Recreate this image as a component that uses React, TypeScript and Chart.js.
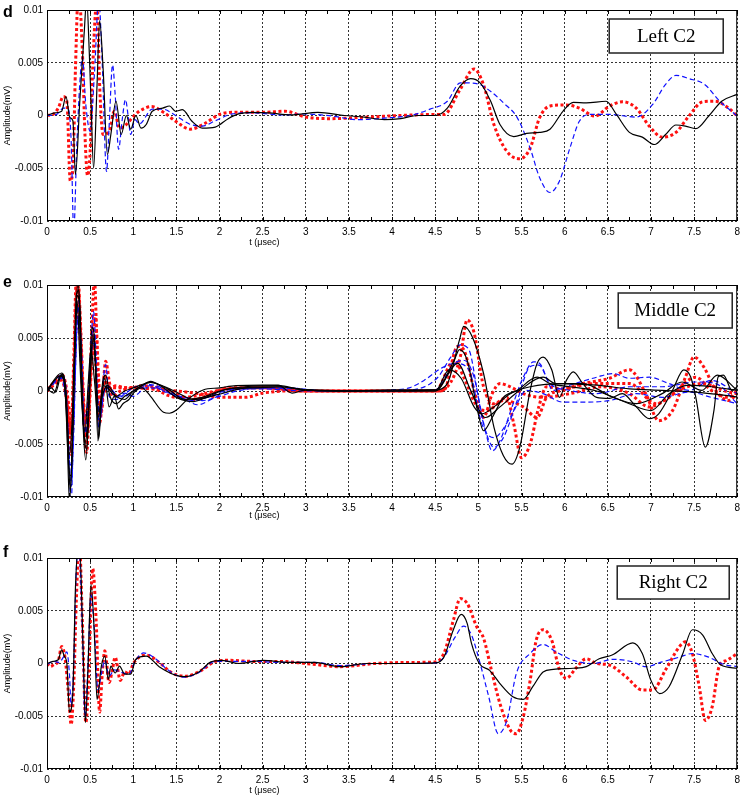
import React, { useEffect, useRef } from "react";
import { Chart, registerables } from "chart.js";

Chart.register(...registerables);

type Pt = [number, number];

// ---- axis ticks ----
const X_TICK_VALUES = [0, 0.5, 1, 1.5, 2, 2.5, 3, 3.5, 4, 4.5, 5, 5.5, 6, 6.5, 7, 7.5, 8];
const X_TICK_LABELS = ["0", "0.5", "1", "1.5", "2", "2.5", "3", "3.5", "4", "4.5", "5", "5.5", "6", "6.5", "7", "7.5", "8"];
const Y_TICK_VALUES = [-0.01, -0.005, 0, 0.005, 0.01];
const Y_TICK_LABELS = ["-0.01", "-0.005", "0", "0.005", "0.01"];
const X_TITLE = "t (\u03bcsec)";
const Y_TITLE = "Amplitude(mV)";

// series values: [t (µsec), amplitude in units of 0.001 mV]
const Y_UNIT = 0.001;

// ---- panel d : Left C2 ----
const dBlack: Pt[] = [[0,0],[0.09,0.25],[0.17,0.4],[0.22,1.8],[0.265,-0.2],[0.3,-0.5],[0.33,-5.6],[0.38,1.35],[0.43,7.7],[0.46,11],[0.49,6],[0.51,1.35],[0.54,-5.0],[0.58,2.9],[0.61,9.0],[0.65,4.5],[0.7,-3.7],[0.74,-1.8],[0.8,1.35],[0.86,-1.8],[0.92,0],[0.97,-1.3],[1.03,0],[1.09,-1.2],[1.15,-0.85],[1.22,0.4],[1.34,0.7],[1.42,0.9],[1.49,0.4],[1.57,0.55],[1.68,-0.55],[1.8,-1.2],[1.95,-1.1],[2.1,-0.3],[2.22,0.15],[2.37,0.3],[2.57,0.25],[2.83,0.05],[3.14,0.3],[3.45,0],[3.68,-0.15],[3.91,-0.4],[4.1,-0.3],[4.29,0],[4.5,0],[4.64,0.7],[4.79,2.8],[4.91,3.5],[5.02,3.1],[5.14,1.4],[5.25,-0.85],[5.41,-2.0],[5.56,-1.7],[5.71,-1.6],[5.83,-1.3],[5.98,0.4],[6.1,1.25],[6.25,1.2],[6.48,1.35],[6.6,0.1],[6.75,-1.6],[6.9,-2.05],[7.04,-2.75],[7.17,-1.8],[7.29,-0.9],[7.4,-1.0],[7.52,-1.25],[7.67,-0.05],[7.82,1.35],[8.0,2.0]];
const dBlue: Pt[] = [[0,0],[0.11,0.1],[0.19,0.7],[0.25,0.55],[0.28,-2.4],[0.31,-11],[0.345,-3],[0.38,3],[0.41,5.5],[0.45,1],[0.5,-1.5],[0.55,4],[0.6,11],[0.64,5],[0.69,-5.3],[0.72,-1],[0.76,4.8],[0.79,2],[0.83,-3.2],[0.87,-0.5],[0.91,1.5],[0.94,0],[0.97,-1.8],[1.02,-0.4],[1.07,-0.8],[1.22,0.6],[1.34,0.6],[1.49,0],[1.65,-0.8],[1.8,-1.0],[1.95,-0.5],[2.15,0.15],[2.37,0.25],[2.75,0.05],[2.99,0.15],[3.3,-0.05],[3.6,-0.4],[3.91,-0.25],[4.21,0],[4.44,0.6],[4.64,1.35],[4.79,3.1],[4.99,3.0],[5.14,2.3],[5.29,1.2],[5.45,-0.2],[5.6,-3.1],[5.71,-5.9],[5.83,-7.3],[5.94,-6.2],[6.06,-3.1],[6.17,-0.55],[6.29,0.1],[6.52,0.1],[6.83,-0.15],[7.02,1.05],[7.17,2.95],[7.29,3.8],[7.44,3.5],[7.63,2.9],[7.78,1.5],[8.0,-0.05]];
const dRed: Pt[] = [[0,0],[0.07,0.1],[0.13,0.7],[0.19,1.8],[0.23,1.35],[0.27,-6.2],[0.3,-5.0],[0.33,4.5],[0.365,12],[0.41,6.1],[0.44,-1.8],[0.47,-5.7],[0.5,-3.4],[0.53,4.5],[0.58,11],[0.61,2.9],[0.65,-1.8],[0.72,-1.5],[0.78,0.4],[0.84,-1.2],[0.92,-0.85],[0.99,-0.2],[1.07,0.4],[1.21,0.85],[1.35,0.3],[1.5,-0.6],[1.66,-1.3],[1.82,-0.8],[2.0,0.1],[2.15,0.3],[2.5,0.3],[2.76,0.4],[3.0,-0.15],[3.3,-0.3],[3.6,-0.2],[4.1,0],[4.5,0.1],[4.6,0.1],[4.79,2.5],[4.95,4.4],[5.06,2.9],[5.18,-0.85],[5.33,-3.4],[5.48,-4.1],[5.6,-3.1],[5.71,-0.2],[5.83,0.9],[6.02,1.0],[6.17,0.7],[6.35,-0.05],[6.52,0.9],[6.67,1.3],[6.83,0.7],[6.98,-1.0],[7.13,-2.05],[7.29,-1.6],[7.44,-0.05],[7.6,1.3],[7.74,1.35],[7.9,0.7],[8.0,-0.05]];

// ---- panel e : Middle C2 ----
const eBlackA: Pt[] = [[0,0],[0.05,0.3],[0.1,-0.1],[0.17,1.6],[0.21,0.5],[0.24,-4],[0.27,-9.5],[0.3,-3],[0.33,6],[0.36,10.5],[0.39,4],[0.42,-3.5],[0.45,-6.5],[0.49,0],[0.52,6],[0.55,5],[0.59,-4.7],[0.63,-1],[0.67,1.2],[0.72,-1.5],[0.78,-0.5],[0.83,-1.7],[0.88,-1.2],[0.95,-0.8],[1.0,-0.2],[1.1,0.3],[1.2,-0.5],[1.35,-2.0],[1.42,-2.1],[1.5,-1.8],[1.62,-0.85],[1.81,0.1],[2.0,0.3],[2.19,0.5],[2.5,0.55],[2.68,0.55],[2.84,-0.2],[3.0,0.1],[3.5,0],[4.0,0],[4.5,0.1],[4.64,0.7],[4.78,4.8],[4.83,6.1],[4.93,5.1],[5.06,1.65],[5.18,-3.4],[5.29,-6.1],[5.39,-6.9],[5.48,-5.3],[5.6,0.06],[5.68,2.6],[5.75,3.2],[5.85,2.0],[5.94,-0.6],[6.02,1.0],[6.1,1.8],[6.21,0.7],[6.37,-0.6],[6.52,-0.7],[6.67,-0.25],[6.83,-1.5],[6.98,-2.6],[7.09,-2.15],[7.25,0.06],[7.38,2.0],[7.46,1.35],[7.52,-0.6],[7.63,-5.3],[7.73,-1.85],[7.78,1.35],[7.84,1.5],[7.94,0.06],[8.0,0.4]];
const eBlackB: Pt[] = [[0,0.2],[0.08,-0.2],[0.16,1.5],[0.2,0.8],[0.23,-3],[0.26,-10.5],[0.29,-6],[0.32,3],[0.35,9],[0.38,8],[0.41,-1],[0.44,-5],[0.47,-3],[0.51,3],[0.54,5],[0.58,-1],[0.6,-4.5],[0.64,0.5],[0.68,1.5],[0.73,-0.5],[0.8,-1.2],[0.9,-0.5],[1.0,0],[1.1,0.5],[1.2,0.9],[1.35,0.3],[1.5,-0.6],[1.7,-1.0],[1.9,-0.4],[2.1,0.2],[2.4,0.3],[2.7,0.4],[3.0,0.1],[3.5,0],[4.0,0.1],[4.5,0.1],[4.72,2.9],[4.78,3.9],[4.87,2.9],[4.99,-1.85],[5.06,-3.75],[5.16,-2.5],[5.29,-0.6],[5.45,0.06],[5.68,1.3],[5.83,0.7],[6.06,0.4],[6.37,0],[6.75,-1.2],[7.0,-1.85],[7.21,-0.25],[7.44,0.55],[7.7,0.4],[8.0,0.06]];
const eBlackC: Pt[] = [[0,0],[0.15,1.4],[0.2,1.0],[0.25,-7],[0.28,-8],[0.31,0],[0.34,9],[0.37,9.5],[0.4,2],[0.43,-4],[0.46,-5.5],[0.5,1],[0.53,5.3],[0.56,3],[0.6,-2],[0.65,0.5],[0.7,0.3],[0.8,-0.5],[0.9,0],[1.0,0.3],[1.2,0.8],[1.4,0.2],[1.6,-0.8],[1.8,-0.6],[2.0,0],[2.3,0.4],[2.7,0.5],[2.9,0.2],[3.2,0],[3.6,0],[4.0,0],[4.5,0],[4.66,2.0],[4.8,1.2],[4.95,-1.5],[5.04,-2.15],[5.18,-1.5],[5.37,-0.25],[5.6,0.4],[5.98,0.7],[6.37,0.55],[6.75,0.2],[7.13,0.06],[7.52,-0.1],[8.0,-0.55]];
const eBlackD: Pt[] = [[0,0.1],[0.17,1.7],[0.22,0],[0.26,-6],[0.29,-3],[0.32,4],[0.35,8.5],[0.38,3],[0.41,-2],[0.44,-3.8],[0.48,1],[0.51,4],[0.55,1],[0.59,-2.5],[0.64,-0.5],[0.7,0.5],[0.8,-0.5],[0.9,-0.8],[1.0,0],[1.2,0.8],[1.45,0.1],[1.7,-0.8],[2.0,-0.3],[2.3,0.3],[2.7,0.4],[3.0,0.1],[3.5,0],[4.0,0],[4.5,0],[4.76,2.6],[4.91,0.06],[5.08,-2.5],[5.25,-1.5],[5.48,0.06],[5.75,1.3],[5.9,0.7],[6.21,0.7],[6.56,-0.6],[6.83,-1.2],[7.13,-0.25],[7.36,0.85],[7.59,0.06],[7.77,1.5],[8.0,0.06]];
const eBlueA: Pt[] = [[0,0],[0.17,1.5],[0.22,0.3],[0.26,-8],[0.28,-10.5],[0.31,-2],[0.34,7],[0.37,8.5],[0.4,1],[0.43,-4],[0.46,-3],[0.5,3],[0.54,7.5],[0.57,3],[0.6,-3],[0.64,0],[0.68,2.5],[0.72,-0.5],[0.8,-0.8],[0.9,-0.3],[1.0,0.3],[1.2,0.6],[1.4,0],[1.6,-0.8],[1.75,-1.3],[1.9,-0.8],[2.1,0],[2.4,0.3],[2.8,0.3],[3.2,0],[3.6,0],[4.0,0],[4.3,0.2],[4.53,1.3],[4.68,3.2],[4.79,4.35],[4.89,3.9],[5.0,-0.6],[5.1,-4.4],[5.16,-5.65],[5.25,-4.7],[5.39,-1.5],[5.52,1.3],[5.64,2.75],[5.71,2.6],[5.87,0.06],[6.06,0.55],[6.37,1.3],[6.56,1.65],[6.75,1.2],[6.98,1.3],[7.21,0.7],[7.44,0.06],[7.7,1.0],[8.0,-0.25]];
const eBlueB: Pt[] = [[0,0.1],[0.16,1.3],[0.21,0.5],[0.25,-5],[0.28,-9],[0.31,-4],[0.34,5],[0.36,8],[0.39,5],[0.42,-2],[0.45,-4],[0.49,0],[0.53,6],[0.56,4],[0.6,-3.5],[0.65,-0.5],[0.7,0.5],[0.8,-0.3],[0.9,-0.5],[1.0,0],[1.2,0.5],[1.4,-0.2],[1.6,-0.6],[1.8,-0.9],[2.0,-0.5],[2.2,0],[2.5,0.3],[2.9,0.2],[3.3,0],[3.7,0],[4.0,0.1],[4.2,0.3],[4.37,1.0],[4.56,2.1],[4.7,2.6],[4.83,2.9],[4.95,1.3],[5.06,-3.1],[5.18,-5.3],[5.29,-4.4],[5.45,-0.9],[5.6,2.3],[5.7,2.45],[5.83,0.7],[6.06,0.06],[6.37,-0.25],[6.75,0.4],[7.13,0.4],[7.52,0.85],[7.75,0.7],[8.0,-1.2]];
const eBlueC: Pt[] = [[0,0],[0.17,1.2],[0.23,-2],[0.27,-7],[0.3,-5],[0.33,2],[0.36,7],[0.4,4],[0.43,-2.5],[0.46,-2],[0.5,2.5],[0.54,4.5],[0.58,0],[0.62,-2.5],[0.66,0],[0.7,0.3],[0.8,-0.6],[0.9,-0.2],[1.0,-0.5],[1.15,0.3],[1.3,0.2],[1.5,-0.5],[1.7,-0.9],[1.9,-0.5],[2.1,0.1],[2.5,0.2],[3.0,0],[3.5,0],[4.0,0],[4.5,0.1],[4.74,2.6],[4.89,2.0],[5.04,-3.1],[5.18,-4.4],[5.37,-2.5],[5.56,0.06],[5.75,-0.25],[5.98,-1.05],[6.21,-1.05],[6.52,-0.9],[6.83,-0.25],[7.13,-0.6],[7.44,-0.1],[7.7,-0.6],[8.0,-1.2]];
const eRedA: Pt[] = [[0,0],[0.18,1.5],[0.22,0.5],[0.26,-2],[0.28,-4],[0.31,3],[0.34,10.5],[0.37,9],[0.4,3],[0.43,-3],[0.46,-5.8],[0.49,-1],[0.52,6],[0.55,10.5],[0.58,4],[0.61,-3],[0.64,-1],[0.68,2.8],[0.72,1],[0.76,-0.5],[0.85,0],[1.0,0.3],[1.1,0.5],[1.3,0.3],[1.5,-0.3],[1.7,-0.8],[1.9,-0.3],[2.1,0.3],[2.5,0.3],[3.0,0],[3.5,0],[4.0,0],[4.5,0],[4.64,0.4],[4.79,3.2],[4.87,6.7],[4.95,5.5],[5.06,0.4],[5.18,-1.2],[5.33,-0.6],[5.41,-3.1],[5.5,-6.3],[5.6,-5.0],[5.7,-1.5],[5.79,0.4],[5.98,0.2],[6.21,0.7],[6.52,1.2],[6.75,2.0],[6.94,-0.25],[7.09,-2.8],[7.25,-1.85],[7.4,1.3],[7.5,3.2],[7.61,2.3],[7.75,0.06],[7.9,-0.9],[8.0,-0.25]];
const eRedB: Pt[] = [[0,0.2],[0.17,1.2],[0.22,0],[0.25,-3],[0.28,-6],[0.31,0],[0.33,7],[0.36,10.5],[0.39,6],[0.42,0],[0.45,-4],[0.48,-3],[0.52,3],[0.56,7],[0.6,1],[0.63,-2],[0.67,1.5],[0.7,0.5],[0.8,0.3],[0.9,0.3],[1.0,0.3],[1.2,0.3],[1.4,-0.4],[1.5,-0.6],[1.7,-0.5],[1.9,-0.1],[2.1,0.2],[2.5,0.3],[3.0,0],[3.5,0],[4.0,0],[4.5,0],[4.6,0.06],[4.76,4.2],[4.83,3.9],[4.95,0.06],[5.06,-2.5],[5.16,-0.25],[5.25,0.7],[5.37,0.4],[5.52,-0.25],[5.75,-0.6],[6.06,-0.25],[6.44,0.4],[6.75,-0.25],[6.98,-1.5],[7.21,-0.6],[7.52,1.3],[7.7,0.06],[7.9,-0.6],[8.0,0.06]];
const eRedC: Pt[] = [[0,0],[0.17,1],[0.23,-1],[0.27,-4],[0.3,-1],[0.33,5],[0.36,8],[0.39,4],[0.42,-1],[0.45,-3],[0.49,0],[0.53,4],[0.57,2],[0.6,-2],[0.65,0],[0.7,0],[0.8,0.5],[0.9,0.3],[1.0,0.3],[1.2,0.2],[1.5,0],[1.8,-0.3],[2.0,-0.6],[2.3,-0.6],[2.5,-0.2],[2.8,0],[3.2,0],[3.6,0],[4.0,0],[4.5,0],[4.72,2.9],[4.83,1.3],[4.99,-1.5],[5.1,-1.85],[5.29,-0.9],[5.52,-1.5],[5.68,-2.5],[5.79,-0.6],[5.98,0.06],[6.37,0.7],[6.75,0.7],[7.06,-1.2],[7.32,0.06],[7.59,0.7],[7.9,-0.1],[8.0,-0.25]];

// ---- panel f : Right C2 ----
const fBlack: Pt[] = [[0,0],[0.07,0.2],[0.13,0.35],[0.17,1.3],[0.2,0.7],[0.23,0],[0.26,-4.6],[0.3,-2.7],[0.33,7.25],[0.375,11.5],[0.42,1.0],[0.445,-5.6],[0.475,-0.55],[0.51,7.5],[0.55,2.6],[0.58,-3.4],[0.63,-0.25],[0.67,0.7],[0.71,-1.5],[0.74,-0.25],[0.79,-0.9],[0.84,-0.25],[0.9,-1.0],[0.97,-1.0],[1.03,0.4],[1.15,0.7],[1.3,-0.3],[1.49,-1.1],[1.6,-1.25],[1.76,-0.8],[1.9,0.15],[2.03,0.3],[2.22,0],[2.5,0.3],[2.8,0.1],[3.1,0.1],[3.4,-0.3],[3.7,0],[4.1,0],[4.5,0.05],[4.6,0.6],[4.71,3.2],[4.8,4.65],[4.87,3.8],[4.92,1.9],[5.01,0],[5.13,-0.65],[5.25,-1.9],[5.4,-3.15],[5.52,-3.4],[5.63,-2.2],[5.75,-0.8],[5.87,-0.55],[6.1,-0.45],[6.25,-0.3],[6.4,0.45],[6.55,0.8],[6.79,1.95],[6.9,0.95],[7.0,-1.6],[7.1,-2.85],[7.21,-2.2],[7.37,0.95],[7.48,3.2],[7.6,2.7],[7.71,0.95],[7.81,-0.15],[8.0,-0.45]];
const fBlue: Pt[] = [[0,-0.1],[0.08,0.2],[0.14,0.1],[0.19,0.6],[0.23,1.1],[0.26,-1],[0.28,-4],[0.31,0],[0.34,9],[0.37,11],[0.41,3],[0.44,-5],[0.47,-1],[0.51,6.5],[0.55,3],[0.59,-2.5],[0.63,-1],[0.67,0.3],[0.72,-1.2],[0.78,-0.6],[0.85,-0.8],[0.95,-1],[1.02,0.2],[1.12,1.0],[1.25,0.5],[1.4,-0.6],[1.58,-1.3],[1.75,-0.9],[1.95,0.2],[2.1,0.2],[2.4,0.2],[2.7,0.1],[3.1,0.1],[3.4,-0.2],[3.8,0],[4.2,0],[4.5,0.05],[4.6,0.6],[4.73,2.5],[4.83,3.55],[4.92,2.7],[5.02,0],[5.12,-3.15],[5.23,-6.65],[5.33,-5.4],[5.44,-0.95],[5.6,0.95],[5.75,1.8],[5.9,1.1],[6.1,0.3],[6.33,0],[6.56,0.4],[6.79,0.15],[6.94,-0.3],[7.13,0.15],[7.33,0.6],[7.48,0.95],[7.67,0.6],[7.83,-0.05],[8.0,-0.3]];
const fRed: Pt[] = [[0,0],[0.04,-0.3],[0.08,-0.1],[0.13,0.2],[0.17,1.6],[0.21,0.5],[0.25,-3],[0.28,-5.8],[0.31,-2],[0.34,6],[0.375,11.5],[0.41,4],[0.45,-5.6],[0.48,-2],[0.53,9],[0.57,4],[0.61,-4.6],[0.64,-1],[0.67,1.2],[0.72,-1.8],[0.76,-0.5],[0.79,0.6],[0.85,-1.6],[0.9,-0.8],[0.95,-1.0],[1.0,0],[1.15,0.8],[1.3,0.1],[1.45,-0.9],[1.6,-1.2],[1.8,-0.6],[1.95,0.2],[2.1,0.3],[2.4,0.2],[2.7,0.2],[3.0,0],[3.4,-0.3],[3.8,0],[4.2,0.1],[4.5,0.15],[4.6,0.95],[4.71,4.1],[4.79,6.15],[4.87,5.7],[4.98,3.5],[5.06,2.4],[5.15,-0.6],[5.25,-3.8],[5.37,-6.3],[5.44,-6.65],[5.52,-5.05],[5.6,-1.6],[5.67,2.2],[5.75,3.2],[5.85,2.2],[5.94,-0.6],[6.02,-1.4],[6.13,-0.45],[6.25,0.45],[6.37,0],[6.52,-0.15],[6.71,-1.25],[6.9,-2.5],[7.02,-2.5],[7.17,-0.6],[7.33,1.6],[7.4,2.05],[7.48,0.95],[7.56,-2.2],[7.63,-5.4],[7.71,-4.1],[7.79,-0.3],[7.88,0.3],[8.0,0.95]];

type Kind = "black" | "blue" | "red";
interface PanelCfg {
  letter: string;
  legend: string;
  series: { data: Pt[]; kind: Kind }[];
  top: number;
  height: number;
  padTop: number;
  xAxisH: number;
  titleOffset: number;
  letterBaseline: number;
  box: { rightInset: number; topInset: number; w: number; h: number };
}

const PANELS: PanelCfg[] = [
  {
    letter: "d", legend: "Left C2",
    series: [{ data: dBlack, kind: "black" }, { data: dBlue, kind: "blue" }, { data: dRed, kind: "red" }],
    top: 0, height: 250, padTop: 9, xAxisH: 29, titleOffset: 22, letterBaseline: 17,
    box: { rightInset: 14, topInset: 9, w: 114, h: 34 },
  },
  {
    letter: "e", legend: "Middle C2",
    series: [
      { data: eBlackA, kind: "black" }, { data: eBlackB, kind: "black" }, { data: eBlackC, kind: "black" }, { data: eBlackD, kind: "black" },
      { data: eBlueA, kind: "blue" }, { data: eBlueB, kind: "blue" }, { data: eBlueC, kind: "blue" },
      { data: eRedA, kind: "red" }, { data: eRedB, kind: "red" }, { data: eRedC, kind: "red" },
    ],
    top: 250, height: 275, padTop: 35, xAxisH: 28, titleOffset: 19, letterBaseline: 37,
    box: { rightInset: 5, topInset: 8, w: 114, h: 35 },
  },
  {
    letter: "f", legend: "Right C2",
    series: [{ data: fBlack, kind: "black" }, { data: fBlue, kind: "blue" }, { data: fRed, kind: "red" }],
    top: 525, height: 272, padTop: 33, xAxisH: 28, titleOffset: 22, letterBaseline: 32,
    box: { rightInset: 8, topInset: 8, w: 112, h: 33 },
  },
];

const STYLE: Record<Kind, any> = {
  black: { borderColor: "#000000", borderWidth: 1.2, borderDash: [] },
  blue: { borderColor: "#1010ff", borderWidth: 1.2, borderDash: [5, 3] },
  red: { borderColor: "#ff1010", borderWidth: 3, borderDash: [3, 2.5] },
};

const TICK_FONT = { family: "'Liberation Sans Narrow', 'Liberation Sans', Arial, sans-serif", size: 10 };
const X_TITLE_AT = 2.52;

function PanelChart({ cfg }: { cfg: PanelCfg }) {
  const ref = useRef<HTMLCanvasElement | null>(null);
  useEffect(() => {
    if (!ref.current) return;
    const decor = {
      id: "decor",
      afterDraw(chart: any) {
        const { ctx, chartArea: a, scales } = chart;
        const xs = scales.x;
        ctx.save();
        // box
        ctx.strokeStyle = "#000";
        ctx.lineWidth = 1;
        ctx.setLineDash([]);
        ctx.strokeRect(a.left + 0.5, a.top + 0.5, a.right - a.left - 1, a.bottom - a.top - 1);
        // minor inside ticks
        ctx.beginPath();
        for (let i = 0; i <= 32; i++) {
          const px = Math.round(xs.getPixelForValue(i * 0.25)) + 0.5;
          ctx.moveTo(px, a.bottom);
          ctx.lineTo(px, a.bottom - 4);
          ctx.moveTo(px, a.top);
          ctx.lineTo(px, a.top + 4);
        }
        ctx.stroke();
        // x title
        ctx.fillStyle = "#000";
        ctx.font = "9px 'Liberation Sans Narrow', 'Liberation Sans', Arial, sans-serif";
        ctx.textAlign = "center";
        ctx.textBaseline = "middle";
        ctx.fillText(X_TITLE, xs.getPixelForValue(X_TITLE_AT), a.bottom + cfg.titleOffset);
        // y title
        ctx.save();
        ctx.translate(8, (a.top + a.bottom) / 2);
        ctx.rotate(-Math.PI / 2);
        ctx.font = "9px 'Liberation Sans', Arial, sans-serif";
        ctx.fillText(Y_TITLE, 0, 0);
        ctx.restore();
        // legend box
        const bx = a.right - cfg.box.rightInset - cfg.box.w;
        const by = a.top + cfg.box.topInset;
        ctx.fillStyle = "#fff";
        ctx.fillRect(bx, by, cfg.box.w, cfg.box.h);
        ctx.strokeStyle = "#222";
        ctx.lineWidth = 1.5;
        ctx.strokeRect(bx, by, cfg.box.w, cfg.box.h);
        ctx.fillStyle = "#000";
        ctx.font = "19px 'Liberation Serif', 'Times New Roman', serif";
        ctx.textAlign = "center";
        ctx.textBaseline = "middle";
        ctx.fillText(cfg.legend, bx + cfg.box.w / 2, by + cfg.box.h / 2 + 1);
        // panel letter
        ctx.font = "bold 16px 'Liberation Sans', Arial, sans-serif";
        ctx.textAlign = "left";
        ctx.textBaseline = "alphabetic";
        ctx.fillText(cfg.letter, 3, cfg.letterBaseline);
        ctx.restore();
      },
    };
    const chart = new Chart(ref.current, {
      type: "line",
      data: {
        datasets: cfg.series.map((s) => ({
          data: s.data.map(([t, v]) => ({ x: t, y: v * Y_UNIT })),
          ...STYLE[s.kind],
          pointRadius: 0,
          fill: false,
          cubicInterpolationMode: "monotone",
          borderCapStyle: "butt",
          borderJoinStyle: "round",
        })),
      },
      options: {
        animation: false,
        responsive: false,
        events: [],
        layout: { padding: { left: 0, right: 3, top: cfg.padTop, bottom: 0 } },
        plugins: { legend: { display: false }, tooltip: { enabled: false }, title: { display: false } },
        scales: {
          x: {
            type: "linear",
            min: 0,
            max: 8,
            afterFit: (s: any) => { s.height = cfg.xAxisH; },
            afterBuildTicks: (s: any) => { s.ticks = X_TICK_VALUES.map((v) => ({ value: v })); },
            ticks: {
              color: "#000",
              font: TICK_FONT,
              padding: 5,
              maxRotation: 0,
              autoSkip: false,
              callback: (_v: any, i: number) => X_TICK_LABELS[i],
            },
            grid: { color: "#333", lineWidth: 1, drawTicks: false },
            border: { display: false, dash: [2, 2] },
          },
          y: {
            type: "linear",
            min: -0.01,
            max: 0.01,
            afterFit: (s: any) => { s.width = 47; },
            afterBuildTicks: (s: any) => { s.ticks = Y_TICK_VALUES.map((v) => ({ value: v })); },
            ticks: {
              color: "#000",
              font: TICK_FONT,
              padding: 4,
              autoSkip: false,
              callback: (_v: any, i: number) => Y_TICK_LABELS[i],
            },
            grid: { color: "#333", lineWidth: 1, drawTicks: false },
            border: { display: false, dash: [2, 2] },
          },
        },
      } as any,
      plugins: [decor],
    });
    return () => chart.destroy();
  }, [cfg]);
  return (
    <div style={{ position: "absolute", left: 0, top: cfg.top, width: 745, height: cfg.height }}>
      <canvas ref={ref} width={745} height={cfg.height} style={{ display: "block", width: 745, height: cfg.height }} />
    </div>
  );
}

export default function App() {
  return (
    <div style={{ position: "fixed", left: 0, top: 0, width: 745, height: 797, background: "#fff", overflow: "hidden" }}>
      {PANELS.map((p) => (
        <PanelChart key={p.letter} cfg={p} />
      ))}
    </div>
  );
}
